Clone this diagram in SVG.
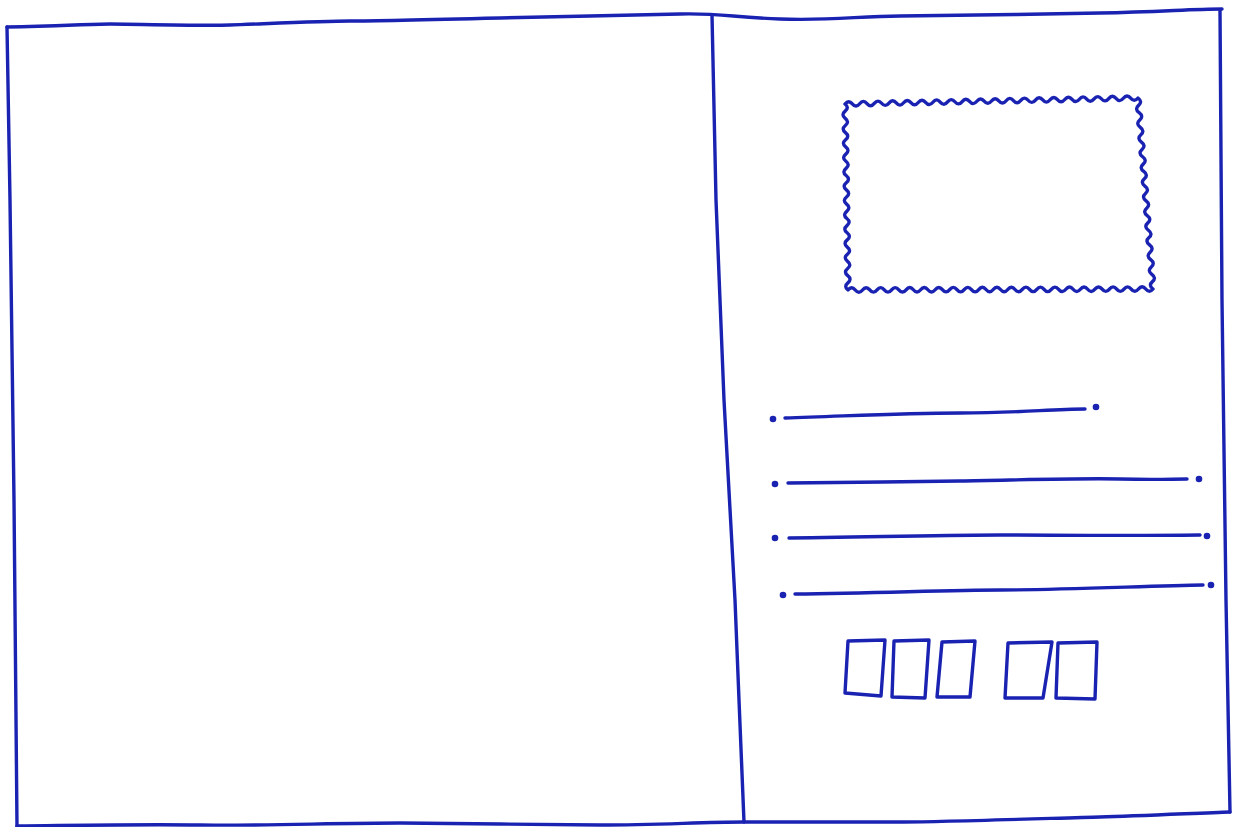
<svg xmlns="http://www.w3.org/2000/svg" width="1234" height="827" viewBox="0 0 1234 827">
<style>
.pen{fill:none;stroke:#1a22b2;stroke-width:3.4;stroke-linecap:round;stroke-linejoin:round}
.dot{fill:#1a22b2}
</style>
<rect width="1234" height="827" fill="#ffffff"/>
<g id="frame">
<path class="pen" d="M7,27 C60,26 90,24 110,24 S200,26 230,25 S320,21 350,21 S460,19 500,18 S640,15 680,14 S730,17 780,19 S860,16 900,16 S1040,14 1100,13 S1190,9 1222,9"/>
<path class="pen" d="M7,27 L10,200 L14,500 L17,827"/>
<path class="pen" d="M1220,10 L1222,300 L1226,600 L1230,812"/>
<path class="pen" d="M17,826 C100,825 150,824 200,825 S340,823 400,823 S540,825 600,825 S700,822 744,822 S860,822 900,822 S1060,818 1100,817 S1200,813 1230,812"/>
<path class="pen" d="M712,15 L716,200 L724,400 L735,600 L739,700 L744,822"/>
</g>
<g id="stamp">
<path class="pen" d="M845,104 q3.66,-4.5 7.325,-0.15 t7.325,-0.15 t7.325,-0.15 t7.325,-0.15 t7.325,-0.15 t7.325,-0.15 t7.325,-0.15 t7.325,-0.15 t7.325,-0.15 t7.325,-0.15 t7.325,-0.15 t7.325,-0.15 t7.325,-0.15 t7.325,-0.15 t7.325,-0.15 t7.325,-0.15 t7.325,-0.15 t7.325,-0.15 t7.325,-0.15 t7.325,-0.15 t7.325,-0.15 t7.325,-0.15 t7.325,-0.15 t7.325,-0.15 t7.325,-0.15 t7.325,-0.15 t7.325,-0.15 t7.325,-0.15 t7.325,-0.15 t7.325,-0.15 t7.325,-0.15 t7.325,-0.15 t7.325,-0.15 t7.325,-0.15 t7.325,-0.15 t7.325,-0.15 t7.325,-0.15 t7.325,-0.15 t7.325,-0.15 t7.325,-0.15
q4.8,3.67 0.577,7.346 t0.577,7.346 t0.577,7.346 t0.577,7.346 t0.577,7.346 t0.577,7.346 t0.577,7.346 t0.577,7.346 t0.577,7.346 t0.577,7.346 t0.577,7.346 t0.577,7.346 t0.577,7.346 t0.577,7.346 t0.577,7.346 t0.577,7.346 t0.577,7.346 t0.577,7.346 t0.577,7.346 t0.577,7.346 t0.577,7.346 t0.577,7.346 t0.577,7.346 t0.577,7.346 t0.577,7.346 t0.577,7.346
q-3.63,4.5 -7.262,0.024 t-7.262,0.024 t-7.262,0.024 t-7.262,0.024 t-7.262,0.024 t-7.262,0.024 t-7.262,0.024 t-7.262,0.024 t-7.262,0.024 t-7.262,0.024 t-7.262,0.024 t-7.262,0.024 t-7.262,0.024 t-7.262,0.024 t-7.262,0.024 t-7.262,0.024 t-7.262,0.024 t-7.262,0.024 t-7.262,0.024 t-7.262,0.024 t-7.262,0.024 t-7.262,0.024 t-7.262,0.024 t-7.262,0.024 t-7.262,0.024 t-7.262,0.024 t-7.262,0.024 t-7.262,0.024 t-7.262,0.024 t-7.262,0.024 t-7.262,0.024 t-7.262,0.024 t-7.262,0.024 t-7.262,0.024 t-7.262,0.024 t-7.262,0.024 t-7.262,0.024 t-7.262,0.024 t-7.262,0.024 t-7.262,0.024 t-7.262,0.024 t-7.262,0.024
q-4.5,-3.58 -0.115,-7.154 t-0.115,-7.154 t-0.115,-7.154 t-0.115,-7.154 t-0.115,-7.154 t-0.115,-7.154 t-0.115,-7.154 t-0.115,-7.154 t-0.115,-7.154 t-0.115,-7.154 t-0.115,-7.154 t-0.115,-7.154 t-0.115,-7.154 t-0.115,-7.154 t-0.115,-7.154 t-0.115,-7.154 t-0.115,-7.154 t-0.115,-7.154 t-0.115,-7.154 t-0.115,-7.154 t-0.115,-7.154 t-0.115,-7.154 t-0.115,-7.154 t-0.115,-7.154 t-0.115,-7.154 t-0.115,-7.154"/>
</g>
<g id="address-lines">
<circle class="dot" cx="773" cy="419" r="3.3"/>
<path class="pen" d="M785,418 C850,416 900,413 960,413 S1050,409 1085,409"/>
<circle class="dot" cx="1096" cy="407" r="3.3"/>
<circle class="dot" cx="775" cy="484" r="3.3"/>
<path class="pen" d="M788,483 C850,482 900,482 960,481 S1080,478 1120,479 S1170,479 1187,479"/>
<circle class="dot" cx="1199" cy="479" r="3.3"/>
<circle class="dot" cx="775" cy="538" r="3.3"/>
<path class="pen" d="M789,538 C880,537 950,535 1000,535 S1120,536 1200,535"/>
<circle class="dot" cx="1207" cy="536" r="3.3"/>
<circle class="dot" cx="783" cy="595" r="3.3"/>
<path class="pen" d="M795,594 C880,593 950,590 1000,590 S1150,586 1203,585"/>
<circle class="dot" cx="1211" cy="585" r="3.3"/>
</g>
<g id="postcode">
<path class="pen" d="M848,641 L885,640 L881,696 L845,693 Z"/>
<path class="pen" d="M894,641 L929,640 L925,698 L892,697 Z"/>
<path class="pen" d="M942,642 L975,641 L970,697 L937,697 Z"/>
<path class="pen" d="M1008,643 L1052,642 L1043,698 L1005,698 Z"/>
<path class="pen" d="M1058,643 L1097,642 L1095,699 L1056,698 Z"/>
</g>
</svg>
